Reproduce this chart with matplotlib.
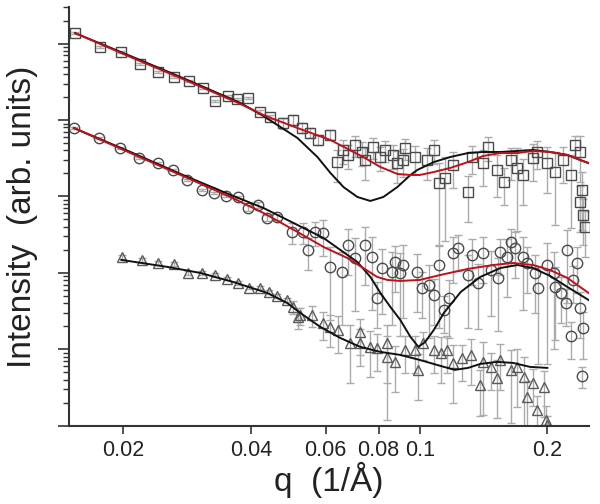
import matplotlib
matplotlib.use('Agg')
import matplotlib.pyplot as plt
import numpy as np

plt.rcParams['font.family'] = ['Liberation Sans', 'DejaVu Sans']

# squares (top curve)
sq_q = [0.0154, 0.0176, 0.0198, 0.0219, 0.0242, 0.0264, 0.0286, 0.0309, 0.0330, 0.0354,
        0.0371, 0.0394, 0.0421, 0.0444, 0.0477, 0.0504, 0.0529, 0.0552, 0.0577, 0.0616,
        0.0639, 0.0661, 0.0679, 0.0705, 0.0732, 0.0744, 0.0778, 0.0808, 0.0830, 0.0867,
        0.0886, 0.0925, 0.0915, 0.0977, 0.104, 0.108, 0.111, 0.115, 0.120, 0.130,
        0.133, 0.141, 0.145, 0.152, 0.158, 0.164, 0.170, 0.175, 0.185, 0.189,
        0.200, 0.209, 0.218, 0.227, 0.233, 0.239, 0.242, 0.239, 0.243, 0.246]
sq_I = [1.37e5, 9.0e4, 7.74e4, 5.40e4, 4.24e4, 3.65e4, 3.24e4, 2.62e4, 1.77e4, 2.06e4,
        1.88e4, 1.94e4, 1.27e4, 1.09e4, 9.1e3, 1.0e4, 7.86e3, 6.76e3, 5.48e3, 6.37e3,
        2.82e3, 4.06e3, 3.49e3, 4.71e3, 3.82e3, 3.0e3, 4.44e3, 3.28e3, 4.06e3, 3.49e3,
        2.74e3, 4.30e3, 3.0e3, 3.28e3, 3.0e3, 4.06e3, 1.50e3, 1.75e3, 2.58e3, 1.15e3,
        3.28e3, 2.74e3, 4.44e3, 2.22e3, 1.55e3, 3.0e3, 2.36e3, 1.91e3, 3.19e3, 3.82e3,
        2.74e3, 2.09e3, 3.0e3, 1.91e3, 4.71e3, 3.82e3, 1.22e3, 848, 573, 399]
sq_rel = [0.04] * 12 + [0.06, 0.06] + [0.15] * 6 + \
         [0.45, 0.35, 0.35, 0.3, 0.35, 0.45, 0.3, 0.35, 0.3, 0.35,
          0.45, 0.3, 0.4, 0.4, 0.45, 0.35, 0.85, 0.85, 0.5, 0.6,
          0.4, 0.5, 0.35, 0.55, 0.5, 0.45, 0.85, 0.6, 0.5, 0.4,
          0.6, 0.8, 0.5, 0.8, 0.3, 0.6, 0.7, 0.6, 0.6, 0.6]

# circles (middle curve)
ci_q = [0.0153, 0.0175, 0.0197, 0.0218, 0.0241, 0.0262, 0.0283, 0.0307, 0.0328, 0.0350,
        0.0373, 0.0394, 0.0416, 0.0437, 0.0461, 0.0501, 0.0532, 0.0546, 0.0567, 0.0593,
        0.0616, 0.0657, 0.0679, 0.0705, 0.0744, 0.0773, 0.0794, 0.0816, 0.0862, 0.0876,
        0.0915, 0.0900, 0.0987, 0.101, 0.105, 0.108, 0.111, 0.114, 0.117, 0.120,
        0.123, 0.130, 0.133, 0.137, 0.141, 0.147, 0.153, 0.155, 0.161, 0.164,
        0.168, 0.175, 0.179, 0.187, 0.190, 0.200, 0.207, 0.209, 0.215, 0.221,
        0.223, 0.230, 0.235, 0.239, 0.243, 0.227, 0.242]
ci_I = [7.86e3, 5.82e3, 4.30e3, 3.19e3, 2.74e3, 2.22e3, 1.64e3, 1.22e3, 1.11e3, 1.02e3,
        985, 708, 774, 524, 540, 344, 344, 200, 344, 333,
        120, 103, 232, 157, 232, 162, 47, 116, 103, 139,
        127, 100, 103, 64, 70, 52, 127, 33, 47, 183,
        212, 94, 172, 74, 183, 109, 86, 188, 162, 254,
        212, 162, 135, 100, 64, 127, 100, 66, 55, 41,
        200, 81, 135, 35, 19, 15, 4.5]
ci_rel = [0.04] * 11 + [0.1] * 4 + \
         [0.3, 0.3, 0.45, 0.35, 0.5, 0.8, 0.8, 0.6, 0.8, 0.7,
          0.8, 0.6, 0.75, 0.8, 0.6, 0.8, 0.85, 0.7, 0.6, 0.8,
          0.6, 0.85, 0.5, 0.7, 0.6, 0.5, 0.8, 0.6, 0.75, 0.6,
          0.75, 0.8, 0.5, 0.7, 0.5, 0.6, 0.8, 0.6, 0.7, 0.9,
          0.95, 0.9, 0.8, 0.6, 0.5, 0.8, 0.5, 0.6, 0.6, 0.6,
          0.5, 0.3]

# triangles (bottom curve)
tr_q = [0.0199, 0.0221, 0.0242, 0.0264, 0.0285, 0.0307, 0.0330, 0.0352, 0.0373, 0.0396,
        0.0421, 0.0442, 0.0461, 0.0487, 0.0504, 0.0517, 0.0523, 0.0558, 0.0593, 0.0616,
        0.0643, 0.0686, 0.0724, 0.0724, 0.0765, 0.0794, 0.0839, 0.0839, 0.0876, 0.0925,
        0.0977, 0.0993, 0.102, 0.108, 0.112, 0.116, 0.120, 0.126, 0.132, 0.139,
        0.141, 0.147, 0.152, 0.155, 0.164, 0.170, 0.176, 0.179, 0.185, 0.196,
        0.189, 0.198, 0.200]
tr_I = [162, 148, 135, 131, 100, 100, 94, 84, 74, 64,
        64, 56.5, 50, 44.4, 36, 26.6, 28.2, 28.2, 22.2, 19.7,
        18, 12.2, 12.2, 16.9, 10.8, 10.5, 12.2, 8.0, 6.9, 9.85,
        9.85, 5.4, 12.2, 9.85, 9.0, 9.85, 6.7, 7.7, 8.5, 3.4,
        6.9, 5.9, 4.24, 7.3, 5.4, 5.9, 4.37, 2.4, 3.65, 3.24,
        1.62, 1.2, 1.03]
tr_rel = [0.05] * 14 + \
         [0.2, 0.3, 0.25, 0.3, 0.4, 0.45, 0.5, 0.7, 0.5, 0.5,
          0.6, 0.5, 0.7, 0.85, 0.6, 0.5, 0.5, 0.6, 0.4, 0.5,
          0.6, 0.5, 0.7, 0.5, 0.6, 0.6, 0.8, 0.5, 0.7, 0.6,
          0.8, 0.7, 0.8, 0.6, 0.5, 0.6, 0.5, 0.5, 0.3]

# fitted curves
sq_fit_black_q = [0.0154, 0.0208, 0.0273, 0.0378, 0.0428, 0.0515, 0.0574, 0.0616, 0.0661, 0.0713,
                  0.0765, 0.0821, 0.0886, 0.0951, 0.0987, 0.108, 0.118, 0.130, 0.141, 0.155,
                  0.170, 0.185, 0.203, 0.223, 0.239, 0.250]
sq_fit_black_I = [1.37e5, 6.87e4, 3.65e4, 1.67e4, 1.13e4, 5.82e3, 3.28e3, 2.03e3, 1.33e3, 985,
                  874, 985, 1.33e3, 1.91e3, 2.22e3, 2.82e3, 3.28e3, 3.70e3, 3.82e3, 3.82e3,
                  3.94e3, 4.06e3, 3.82e3, 3.49e3, 3.0e3, 2.74e3]
sq_fit_red_q = [0.0154, 0.0208, 0.0273, 0.0378, 0.0428, 0.0515, 0.0616, 0.0736, 0.0808, 0.0886,
                0.0951, 0.100, 0.108, 0.118, 0.130, 0.141, 0.155, 0.170, 0.185, 0.203,
                0.223, 0.239, 0.250]
sq_fit_red_I = [1.37e5, 6.66e4, 3.54e4, 1.62e4, 1.16e4, 7.86e3, 5.48e3, 3.28e3, 2.43e3, 1.97e3,
                1.91e3, 1.91e3, 2.09e3, 2.36e3, 2.82e3, 3.38e3, 3.70e3, 3.70e3, 3.94e3, 3.82e3,
                3.49e3, 3.0e3, 2.74e3]

ci_fit_black_q = [0.0153, 0.0208, 0.0273, 0.0358, 0.0428, 0.0515, 0.0593, 0.0650, 0.0713, 0.0765,
                  0.0808, 0.0853, 0.0900, 0.0951, 0.0993, 0.103, 0.108, 0.114, 0.125, 0.139,
                  0.155, 0.170, 0.185, 0.203, 0.223, 0.250]
ci_fit_black_I = [7.86e3, 3.82e3, 1.97e3, 1.05e3, 708, 424, 287, 200, 139, 88.7,
                  54.8, 35.9, 24.3, 14.6, 10.8, 12.5, 18, 30, 56.5, 88.7,
                  116, 127, 116, 91.4, 65.6, 44.4]
ci_fit_red_q = [0.0153, 0.0208, 0.0273, 0.0358, 0.0428, 0.0515, 0.0593, 0.0675, 0.0736, 0.0794,
                0.0839, 0.0900, 0.100, 0.112, 0.130, 0.149, 0.166, 0.185, 0.203, 0.223,
                0.250]
ci_fit_red_I = [7.86e3, 3.70e3, 1.91e3, 985, 609, 344, 219, 157, 116, 88.7,
                81, 78.6, 81, 94.2, 113, 127, 135, 127, 109, 86,
                54.8]

tr_fit_q = [0.0198, 0.0254, 0.0304, 0.0363, 0.0437, 0.0487, 0.0523, 0.0583, 0.0650, 0.0724,
            0.0808, 0.0900, 0.100, 0.112, 0.121, 0.130, 0.139, 0.152, 0.166, 0.182,
            0.200]
tr_fit_I = [148, 120, 100, 76.3, 54.8, 40.5, 30, 19.7, 14.1, 10.8,
            9.28, 8.47, 7.29, 6.08, 5.40, 5.73, 6.46, 6.87, 6.66, 5.91,
            5.73]

xticks = [0.02, 0.04, 0.06, 0.08, 0.1, 0.2]
xticklabels = ['0.02', '0.04', '0.06', '0.08', '0.1', '0.2']

fig = plt.figure(figsize=(6, 5.04), dpi=100)
ax = fig.add_axes([0.115, 0.155, 0.867, 0.831])

bar_col = '#ababab'
series = [(sq_q, sq_I, sq_rel, 's', 6.5, '#4a4a4a'),
          (ci_q, ci_I, ci_rel, 'o', 7.5, '#4a4a4a'),
          (tr_q, tr_I, tr_rel, '^', 7, '#5a5a5a')]
for q, inten, rel, mk, ms, ec in series:
    inten = np.array(inten)
    err = inten * np.array(rel)
    ax.errorbar(q, inten, yerr=err, fmt='none', ecolor=bar_col, elinewidth=1,
                capsize=3, capthick=1, zorder=1)
    ax.plot(q, inten, linestyle='none', marker=mk, markersize=ms, mfc='none',
            mec=ec, mew=1, zorder=2)

ax.plot(sq_fit_black_q, sq_fit_black_I, color='#111111', lw=1.4, zorder=3)
ax.plot(sq_fit_red_q, sq_fit_red_I, color='#c0101a', lw=1.4, zorder=4)
ax.plot(ci_fit_black_q, ci_fit_black_I, color='#111111', lw=1.4, zorder=3)
ax.plot(ci_fit_red_q, ci_fit_red_I, color='#c0101a', lw=1.4, zorder=4)
ax.plot(tr_fit_q, tr_fit_I, color='#111111', lw=1.4, zorder=3)

ax.set_xscale('log')
ax.set_yscale('log')
ax.set_xlim(0.0149, 0.251)
ax.set_ylim(1, 3.0e5)

ax.set_xticks(xticks)
ax.set_xticklabels(xticklabels)
ax.xaxis.set_minor_locator(matplotlib.ticker.NullLocator())
ax.yaxis.set_major_locator(matplotlib.ticker.LogLocator(base=10, numticks=10))
ax.yaxis.set_minor_locator(matplotlib.ticker.LogLocator(base=10, subs=np.arange(2, 10), numticks=10))
ax.yaxis.set_major_formatter(matplotlib.ticker.NullFormatter())
ax.yaxis.set_minor_formatter(matplotlib.ticker.NullFormatter())

for side in ['top', 'right']:
    ax.spines[side].set_visible(False)
for side in ['left', 'bottom']:
    ax.spines[side].set_linewidth(1.5)
    ax.spines[side].set_color('#333333')

ax.tick_params(axis='x', which='major', length=6, width=1.2, color='#333333',
               labelsize=15.5, labelcolor='#222222', pad=4)
ax.tick_params(axis='y', which='major', length=8, width=1.2, color='#333333')
ax.tick_params(axis='y', which='minor', length=4, width=1, color='#333333')

ax.set_xlabel('q  (1/Å)', fontsize=24, color='#222222', labelpad=1)
ax.set_ylabel('Intensity  (arb. units)', fontsize=24, color='#222222', labelpad=11)

fig.savefig('out.png', dpi=100)
